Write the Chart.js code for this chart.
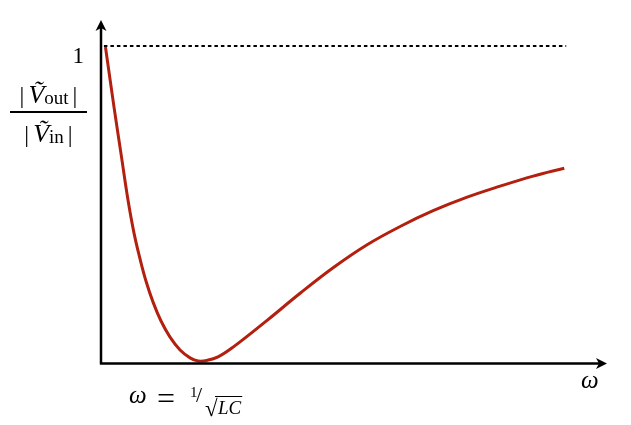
<!DOCTYPE html>
<html>
<head>
<meta charset="utf-8">
<script src="https://cdn.jsdelivr.net/npm/chart.js@4"></script>
<style>
  html, body { margin: 0; padding: 0; background: #fff; }
  canvas { display: block; }
</style>
</head>
<body>
<canvas id="grafico" width="631" height="425"></canvas>
<script>
// frequency in units of 1/sqrt(LC), gain |Vout|/|Vin|
const omega = [0.046, 0.134, 0.211, 0.278, 0.340, 0.402, 0.463, 0.536, 0.618, 0.711, 0.814, 0.917, 1.0,
               1.092, 1.205, 1.36, 1.71, 2.05, 2.39, 2.74, 3.08, 3.42, 3.77, 4.11, 4.45, 4.77];
const gain  = [0.997, 0.806, 0.648, 0.511, 0.406, 0.324, 0.254, 0.187, 0.127, 0.076, 0.035, 0.010, 0.0,
               0.002, 0.013, 0.044, 0.129, 0.215, 0.296, 0.369, 0.427, 0.477, 0.520, 0.555, 0.587, 0.612];
// dotted reference line at gain = 1
const unoX = [0.03, 4.79];
const unoY = [1, 1];

const serif = '"Liberation Serif", "DejaVu Serif", serif';

function flecha(ctx, x, y, dir) {
    // filled arrow head, tip at (x, y); dir 'up' or 'right'
    ctx.save();
    ctx.translate(x, y);
    if (dir === 'right') ctx.rotate(Math.PI / 2);
    ctx.beginPath();
    ctx.moveTo(0, 0);
    ctx.lineTo(5.5, 11);
    ctx.lineTo(0, 8);
    ctx.lineTo(-5.5, 11);
    ctx.closePath();
    ctx.fillStyle = '#000';
    ctx.fill();
    ctx.restore();
}

// draws pieces of text one after the other
function trozos(ctx, x, y, piezas) {
    piezas.forEach(p => {
        ctx.font = p.f;
        ctx.fillText(p.t, x, y + (p.dy || 0));
        x += ctx.measureText(p.t).width + (p.gap || 0);
    });
    return x;
}
function ancho(ctx, piezas) {
    let w = 0;
    piezas.forEach(p => { ctx.font = p.f; w += ctx.measureText(p.t).width + (p.gap || 0); });
    return w;
}

const ejes = {
    id: 'ejes',
    afterDraw(chart) {
        const ctx = chart.ctx;
        const a = chart.chartArea;
        ctx.save();
        ctx.strokeStyle = '#000';
        ctx.lineWidth = 2.5;
        ctx.beginPath();
        ctx.moveTo(a.left, a.bottom + 1);
        ctx.lineTo(a.left, a.top + 6);
        ctx.moveTo(a.left - 1, a.bottom);
        ctx.lineTo(a.right - 6, a.bottom);
        ctx.stroke();
        flecha(ctx, a.left, a.top, 'up');
        flecha(ctx, a.right, a.bottom, 'right');

        ctx.fillStyle = '#000';
        ctx.textBaseline = 'alphabetic';

        // y label "1"
        ctx.font = '23px ' + serif;
        ctx.textAlign = 'right';
        ctx.fillText('1', 84, 63);
        ctx.textAlign = 'left';

        // fraction |V_out| / |V_in|
        const num = [
            { t: '|', f: '24px ' + serif, gap: 4 },
            { t: 'Ṽ', f: 'italic 26px ' + serif, gap: 0 },
            { t: 'out', f: '19px ' + serif, dy: 1, gap: 4 },
            { t: '|', f: '24px ' + serif }
        ];
        const den = [
            { t: '|', f: '24px ' + serif, gap: 4 },
            { t: 'Ṽ', f: 'italic 26px ' + serif, gap: 0 },
            { t: 'in', f: '19px ' + serif, dy: 1, gap: 4 },
            { t: '|', f: '24px ' + serif }
        ];
        const cx = 48.5;
        trozos(ctx, cx - ancho(ctx, num) / 2, 103, num);
        trozos(ctx, cx - ancho(ctx, den) / 2, 142, den);
        ctx.lineWidth = 2;
        ctx.beginPath();
        ctx.moveTo(10, 112);
        ctx.lineTo(87, 112);
        ctx.stroke();

        // x axis label
        ctx.font = 'italic 25px ' + serif;
        ctx.fillText('ω', 581, 388);

        // resonance  omega = 1/sqrt(LC)
        ctx.font = 'italic 25px ' + serif;
        ctx.fillText('ω', 129, 403);
        ctx.font = '32px ' + serif;
        ctx.fillText('=', 157, 409);
        ctx.font = '15px ' + serif;
        ctx.fillText('1', 190, 397);
        ctx.font = '22px ' + serif;
        ctx.fillText('/', 196, 402);
        ctx.font = '23px ' + serif;
        ctx.fillText('√', 205, 416);
        ctx.font = 'italic 19px ' + serif;
        const xLC = 218;
        ctx.fillText('LC', xLC, 414);
        const wLC = ctx.measureText('LC').width;
        ctx.lineWidth = 1;
        ctx.beginPath();
        ctx.moveTo(xLC - 3, 396.5);
        ctx.lineTo(xLC + wLC + 1, 396.5);
        ctx.stroke();
        ctx.restore();
    }
};

new Chart(document.getElementById('grafico'), {
    type: 'line',
    data: {
        datasets: [
            {
                label: '|Vout| / |Vin|',
                data: omega.map((w, i) => ({ x: w, y: gain[i] })),
                borderColor: '#b3200f',
                borderWidth: 3,
                pointRadius: 0,
                tension: 0.4,
                fill: false
            },
            {
                label: '1',
                data: unoX.map((w, i) => ({ x: w, y: unoY[i] })),
                borderColor: '#000',
                borderWidth: 1.8,
                borderDash: [3.5, 3],
                pointRadius: 0,
                fill: false
            }
        ]
    },
    options: {
        responsive: false,
        animation: false,
        devicePixelRatio: 1,
        layout: { padding: { left: 101, right: 24, top: 20, bottom: 61.5 } },
        plugins: { legend: { display: false }, tooltip: { enabled: false } },
        scales: {
            x: { type: 'linear', min: 0, max: 5.21, display: false },
            y: { min: -0.0079, max: 1.0825, display: false }
        }
    },
    plugins: [ejes]
});
</script>
</body>
</html>
